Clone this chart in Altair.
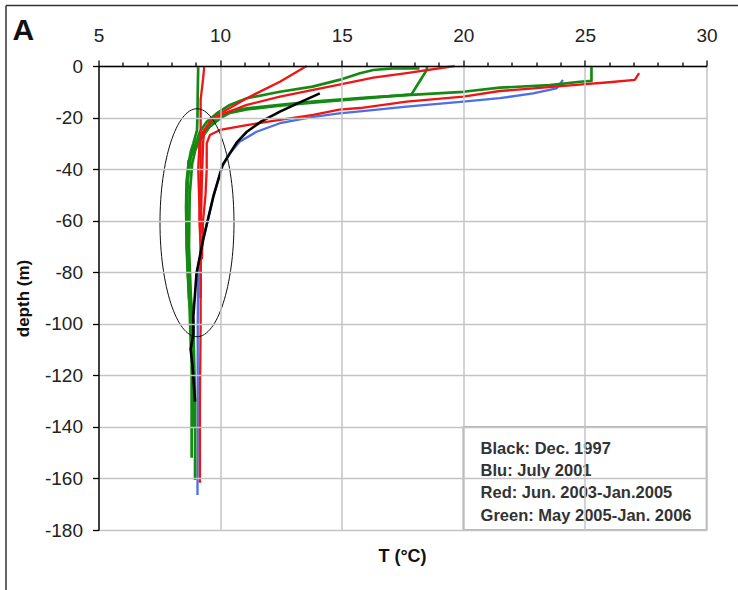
import altair as alt
import pandas as pd

# ---------------- data ----------------
# Black: Dec. 1997
black_T = [14.1, 13.3, 12.46, 11.7, 11.1, 10.7, 10.4, 10.1, 9.72, 9.3, 9.03, 8.9, 8.9, 8.79, 8.87, 8.97]
black_D = [-10.6, -14.0, -17.7, -21.5, -25.5, -29.5, -33.9, -38.5, -50.7, -67.5, -80.4, -97.2, -103.7, -110.0, -116.6, -130.2]

# Blu: July 2001
blue_T = [24.1, 23.83, 22.87, 21.5, 20.0, 17.67, 15.75, 14.9, 13.83, 12.46, 11.5, 10.8, 10.4, 10.1, 9.72, 9.3, 9.1, 9.08, 9.08, 9.07]
blue_D = [-5.4, -8.7, -10.6, -12.5, -13.8, -15.8, -17.6, -18.4, -19.7, -22.2, -25.5, -29.4, -33.9, -38.5, -50.7, -67.5, -78.0, -100.0, -140.0, -166.4]

# Red: Jun. 2003-Jan.2005 (four profiles)
red1_T = [9.35, 9.3, 9.2, 9.2, 9.2, 9.15, 9.2, 9.2, 9.17, 9.17]
red1_D = [0.0, -5.0, -13.0, -25.0, -40.0, -60.0, -70.0, -100.0, -130.0, -161.7]
red2_T = [13.56, 12.46, 11.1, 10.13, 9.72, 9.3, 9.15, 9.1, 9.15, 9.2, 9.2]
red2_D = [0.0, -6.1, -12.5, -17.7, -20.3, -25.5, -30.0, -40.0, -55.0, -70.0, -90.0]
red3_T = [19.65, 17.67, 16.3, 14.9, 13.83, 12.46, 11.1, 10.0, 9.58, 9.35, 9.3, 9.25, 9.2]
red3_D = [0.0, -2.8, -4.5, -7.2, -9.3, -11.9, -15.1, -19.0, -21.6, -25.0, -30.0, -45.0, -65.0]
red4_T = [27.23, 27.05, 26.0, 24.9, 22.9, 21.5, 20.0, 17.67, 15.75, 14.9, 13.83, 12.46, 11.1, 10.0, 9.58, 9.45, 9.45, 9.4, 9.3, 9.25]
red4_D = [-2.8, -5.4, -6.3, -7.1, -8.7, -9.7, -11.9, -13.8, -16.3, -16.9, -19.0, -20.9, -22.9, -24.8, -26.8, -30.0, -40.0, -50.0, -60.0, -75.0]

# Green: May 2005-Jan. 2006 (four profiles)
green1_T = [9.1, 9.08, 9.07, 9.05, 8.9, 8.8, 8.7, 8.62, 8.6, 8.62, 8.66, 8.7, 8.8, 8.83, 8.83, 8.83]
green1_D = [0.0, -10.0, -20.0, -25.0, -30.0, -33.0, -38.0, -45.0, -55.0, -65.0, -75.0, -85.0, -93.0, -100.0, -120.0, -152.0]
green2_T = [25.27, 25.27, 24.8, 23.55, 21.5, 20.0, 18.2, 16.3, 14.9, 13.8, 12.46, 11.1, 10.4, 10.0, 9.58, 9.17, 8.97, 8.85, 8.75, 8.72, 8.8, 8.9, 8.97, 8.97]
green2_D = [0.0, -5.8, -6.1, -7.4, -8.4, -10.0, -11.0, -12.1, -13.0, -13.8, -15.1, -16.4, -17.7, -19.7, -22.9, -28.0, -33.0, -38.0, -50.0, -70.0, -90.0, -100.0, -130.0, -160.6]
green3_T = [18.5, 18.5, 18.2, 17.87, 16.3, 14.9, 13.8, 12.46, 11.1, 10.4, 10.0, 9.58, 9.2, 8.95, 8.7, 8.65, 8.62, 8.72, 8.85, 8.88]
green3_D = [0.0, -1.5, -6.0, -11.0, -12.3, -13.3, -14.2, -15.4, -16.8, -18.2, -20.3, -23.5, -28.5, -32.0, -37.0, -50.0, -70.0, -90.0, -100.0, -140.0]
green4_T = [18.2, 17.1, 16.3, 15.75, 14.9, 13.8, 12.46, 11.1, 10.4, 9.86, 9.45, 9.17, 9.0, 8.8, 8.65, 8.63, 8.68, 8.75, 8.8]
green4_D = [-0.9, -0.9, -1.55, -2.8, -5.4, -8.0, -10.0, -12.5, -15.1, -18.4, -21.6, -25.5, -30.0, -35.0, -45.0, -60.0, -80.0, -95.0, -110.0]

# encircled region (centre, in data units)
ellipse_T = [9.05]
ellipse_D = [-60.8]

# legend note box and its text
note_lines = ["Black: Dec. 1997", "Blu: July 2001", "Red: Jun. 2003-Jan.2005", "Green: May 2005-Jan. 2006"]
note_D = [-148.6, -157.1, -165.6, -174.6]
note_T = [20.71] * 4
box_T = [20.0]
box_T2 = [30.0]
box_D = [-140.0]
box_D2 = [-180.0]

x_ticks = list(range(5, 31))
y_ticks = list(range(-180, 1, 20))

FONT = "Liberation Sans"


def profiles(pairs, group):
    rows = []
    for name, ts, ds in pairs:
        for i, (t, d) in enumerate(zip(ts, ds)):
            rows.append({"T": t, "D": d, "profile": name, "group": group, "idx": i})
    return pd.DataFrame(rows)


df_blue = profiles([("b", blue_T, blue_D)], "blue")
df_green = profiles([("g1", green1_T, green1_D), ("g2", green2_T, green2_D),
                     ("g3", green3_T, green3_D), ("g4", green4_T, green4_D)], "green")
df_red = profiles([("r1", red1_T, red1_D), ("r2", red2_T, red2_D),
                   ("r3", red3_T, red3_D), ("r4", red4_T, red4_D)], "red")
df_black = profiles([("k", black_T, black_D)], "black")

xscale = alt.Scale(domain=[5, 30], nice=False, zero=False)
yscale = alt.Scale(domain=[-180, 0], nice=False, zero=False)

x_axis = alt.Axis(
    orient="top", values=x_ticks, title=None,
    labelExpr="datum.value % 5 === 0 ? datum.label : ''",
    labelOverlap=False, labelFlush=False,
    labelFont=FONT, labelFontSize=19, labelColor="#222", labelPadding=15,
    tickColor="#000", tickWidth=1.3,
    tickSize={"condition": {"test": "datum.value % 5 === 0", "value": 6}, "value": 4},
    domainColor="#000", domainWidth=1.5,
    grid=True, gridColor="#c4c4c4", gridWidth=1.5,
    gridOpacity={"condition": {"test": "datum.value % 5 === 0 && datum.value > 5", "value": 1}, "value": 0},
    zindex=1,
)
y_axis = alt.Axis(
    orient="left", values=y_ticks, title="depth (m)",
    labelExpr="'' + datum.value",
    labelOverlap=False, labelFlush=False,
    labelFont=FONT, labelFontSize=19, labelColor="#222", labelPadding=10,
    tickColor="#000", tickSize=6, tickWidth=1.3,
    domainColor="#000", domainWidth=1.5,
    grid=True, gridColor="#c4c4c4", gridWidth=1.5,
    titleFont=FONT, titleFontSize=17, titleFontWeight="bold", titleColor="#111",
    titleAngle=270, titleAlign="center", titleBaseline="middle",
    titleX=-75, titleY=232,
    zindex=1,
)

X = lambda: alt.X("T:Q", scale=xscale, axis=x_axis)
Y = lambda: alt.Y("D:Q", scale=yscale, axis=y_axis)


def line_layer(df, color, width):
    return alt.Chart(df).mark_line(color=color, strokeWidth=width, strokeJoin="round").encode(
        x=X(), y=Y(),
        detail="profile:N",
        order=alt.Order("idx:Q"),
    )


blue_layer = line_layer(df_blue, "#4a6fe6", 2.3)
green_layer = line_layer(df_green, "#148a14", 2.7)
red_layer = line_layer(df_red, "#ee1515", 2.3)
black_layer = line_layer(df_black, "#000000", 2.6)

ell_df = pd.DataFrame({"T": ellipse_T, "D": ellipse_D})
ellipse = alt.Chart(ell_df).mark_point(
    shape="M0,-1A0.3246,1,0,1,1,0,1A0.3246,1,0,1,1,0,-1Z",
    size=228 * 228, filled=False, stroke="#111", strokeWidth=1, opacity=1,
).encode(x=X(), y=Y())

box_df = pd.DataFrame({"T": box_T, "T2": box_T2, "D": box_D, "D2": box_D2})
box = alt.Chart(box_df).mark_rect(fill="white", stroke="#a0a0a0", strokeWidth=1.5).encode(
    x=X(), x2="T2:Q", y=Y(), y2="D2:Q",
)

note_df = pd.DataFrame({"T": note_T, "D": note_D, "txt": note_lines})
note = alt.Chart(note_df).mark_text(
    align="left", baseline="middle", font=FONT, fontSize=16.5, fontWeight="bold", color="#333",
).encode(x=X(), y=Y(), text="txt:N")

deco_df = pd.DataFrame({"k": [0]})
panel_letter = alt.Chart(deco_df).mark_text(
    text="A", align="left", baseline="alphabetic", font=FONT, fontSize=30, fontWeight="bold", color="#111",
).encode(x=alt.value(-86), y=alt.value(-26))
x_title = alt.Chart(deco_df).mark_text(
    text="T (°C)", align="center", baseline="middle", font=FONT, fontSize=18, fontWeight="bold", color="#111",
).encode(x=alt.value(304), y=alt.value(491))
frame_top = alt.Chart(deco_df).mark_rule(color="#333", strokeWidth=1.5).encode(
    x=alt.value(-92.5), x2=alt.value(650), y=alt.value(-60.5))
frame_left = alt.Chart(deco_df).mark_rule(color="#333", strokeWidth=1.5).encode(
    x=alt.value(-92.5), y=alt.value(-60.5), y2=alt.value(530))

chart = alt.layer(
    blue_layer, green_layer, red_layer, black_layer, ellipse, box, note,
    panel_letter, x_title, frame_top, frame_left,
).properties(
    width=608, height=464,
    autosize=alt.AutoSizeParams(type="none"),
    padding={"left": 98.5, "top": 66, "right": 31.5, "bottom": 60},
    background="white",
).configure_view(stroke=None)

chart.save("out.html", embed_options={"renderer": "svg", "actions": False})
